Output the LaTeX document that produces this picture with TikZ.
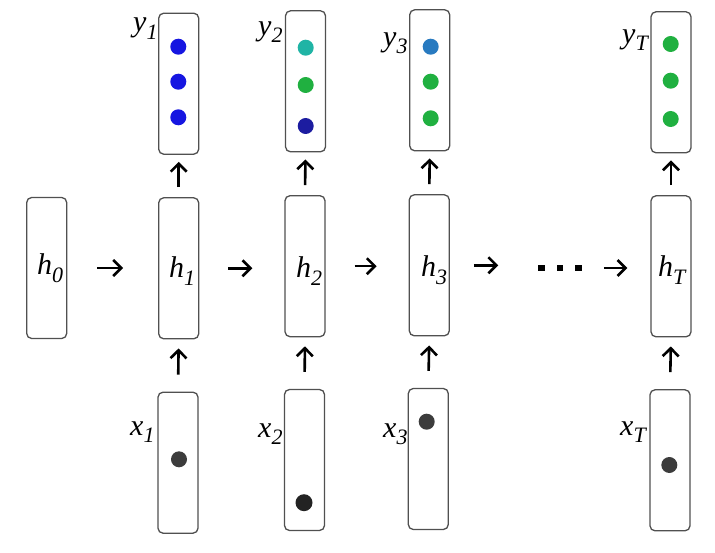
\documentclass[tikz,border=0pt]{standalone}
\usepackage{fontspec}
\setmainfont{Liberation Serif}
\usetikzlibrary{arrows.meta}
\definecolor{boxgray}{RGB}{80,80,80}
\definecolor{dblue}{RGB}{22,22,225}
\definecolor{dnavy}{RGB}{28,28,160}
\definecolor{dteal}{RGB}{32,180,165}
\definecolor{dsteel}{RGB}{40,122,192}
\definecolor{dgreen}{RGB}{32,176,64}
\definecolor{dgray}{RGB}{60,60,60}
\definecolor{ddark}{RGB}{35,35,35}
\newcommand{\sublbl}[2]{{\fontsize{30}{30}\selectfont\itshape #1\raisebox{-7.5pt}{\fontsize{22}{22}\selectfont #2}}}
\begin{document}
\begin{tikzpicture}[x=1pt,y=-1pt,
  vec/.style={draw=boxgray, line width=1.3pt, rounded corners=5pt, minimum width=40pt, minimum height=141pt, inner sep=0pt},
  lab/.style={inner sep=0pt, anchor=base west},
  dot/.style={circle, inner sep=0pt, minimum size=16pt},
  sq/.style={fill=black, inner sep=0pt, minimum size=6.5pt},
  conn/.style={line width=2.6pt, -{Straight Barb[length=8pt,width=16pt]}}]
\useasboundingbox (0,0) rectangle (715,553);
\fill[white] (0,0) rectangle (715,553);
% y boxes
\node[vec] (y1) at (178.7,83.7) {};
\node[vec] (y2) at (305.5,81.3) {};
\node[vec] (y3) at (429.7,80.3) {};
\node[vec] (yT) at (671,82.3) {};
% h boxes
\node[vec] (h0) at (46.7,268) {};
\node[vec] (h1) at (178.7,268.3) {};
\node[vec] (h2) at (305,266.2) {};
\node[vec] (h3) at (429.3,265.3) {};
\node[vec] (hT) at (671,266.3) {};
% x boxes
\node[vec] (x1) at (178,462.7) {};
\node[vec] (x2) at (304.5,460) {};
\node[vec] (x3) at (428.3,459) {};
\node[vec] (xT) at (670,460.3) {};
% y dots
\node[dot, fill=dblue] (y1a) at (178.3,46.7) {};
\node[dot, fill=dblue] (y1b) at (178.3,81.7) {};
\node[dot, fill=dblue] (y1c) at (178.3,117.3) {};
\node[dot, fill=dteal] (y2a) at (305.7,47.7) {};
\node[dot, fill=dgreen] (y2b) at (305.7,85) {};
\node[dot, fill=dnavy] (y2c) at (305.7,126) {};
\node[dot, fill=dsteel] (y3a) at (430.7,46.7) {};
\node[dot, fill=dgreen] (y3b) at (430.7,81.7) {};
\node[dot, fill=dgreen] (y3c) at (430.7,118.3) {};
\node[dot, fill=dgreen] (yTa) at (670.7,44) {};
\node[dot, fill=dgreen] (yTb) at (670.7,80.7) {};
\node[dot, fill=dgreen] (yTc) at (670.7,119) {};
% x dots
\node[dot, fill=dgray] (x1d) at (179,459.3) {};
\node[dot, fill=ddark, minimum size=17pt] (x2d) at (304,502.7) {};
\node[dot, fill=dgray] (x3d) at (426.7,421.7) {};
\node[dot, fill=dgray] (xTd) at (669.3,465) {};
% ellipsis squares
\node[sq] (d1) at (541.7,268) {};
\node[sq] (d2) at (560,268) {};
\node[sq] (d3) at (578.3,268) {};
% labels
\node[lab] (ly1) at (133,31.7) {\sublbl{y}{1}};
\node[lab] (ly2) at (258,35.4) {\sublbl{y}{2}};
\node[lab] (ly3) at (383,46.4) {\sublbl{y}{3}};
\node[lab] (lyT) at (622,43.4) {\sublbl{y}{T}};
\node[lab] (lh0) at (37,275) {\sublbl{h}{0}};
\node[lab] (lh1) at (169,278) {\sublbl{h}{1}};
\node[lab] (lh2) at (296,278) {\sublbl{h}{2}};
\node[lab] (lh3) at (421,277) {\sublbl{h}{3}};
\node[lab] (lhT) at (658,277) {\sublbl{h}{T}};
\node[lab] (lx1) at (130,435) {\sublbl{x}{1}};
\node[lab] (lx2) at (258,437) {\sublbl{x}{2}};
\node[lab] (lx3) at (383,437) {\sublbl{x}{3}};
\node[lab] (lxT) at (620,435) {\sublbl{x}{T}};
% horizontal arrows
\draw[conn, shorten <=30pt, shorten >=35pt] (h0.east) -- (h1.west |- h0.east);
\draw[conn, shorten <=29pt, shorten >=32pt] (h1.east) -- (h2.west |- h1.east);
\draw[conn, shorten <=29pt, shorten >=32pt] (h2.east) -- (h3.west |- h2.east);
\draw[conn, shorten <=24pt, shorten >=40pt] (h3.east) -- (d1.west |- h3.east);
\draw[conn, shorten <=22pt, shorten >=23pt] (d3.east) -- (hT.west |- d3.east);
% vertical arrows x -> h
\draw[conn, shorten <=17pt, shorten >=9pt] (x1.north) -- (h1.south);
\draw[conn, shorten <=17pt, shorten >=9pt] (x2.north) -- (h2.south);
\draw[conn, shorten <=17pt, shorten >=9pt] (x3.north) -- (h3.south);
\draw[conn, shorten <=17pt, shorten >=9pt] (xT.north) -- (hT.south);
% vertical arrows h -> y
\draw[conn, shorten <=10pt, shorten >=7pt] (h1.north) -- (y1.south);
\draw[conn, shorten <=10pt, shorten >=7pt] (h2.north) -- (y2.south);
\draw[conn, shorten <=10pt, shorten >=7pt] (h3.north) -- (y3.south);
\draw[conn, shorten <=10pt, shorten >=7pt] (hT.north) -- (yT.south);
\end{tikzpicture}
\end{document}
